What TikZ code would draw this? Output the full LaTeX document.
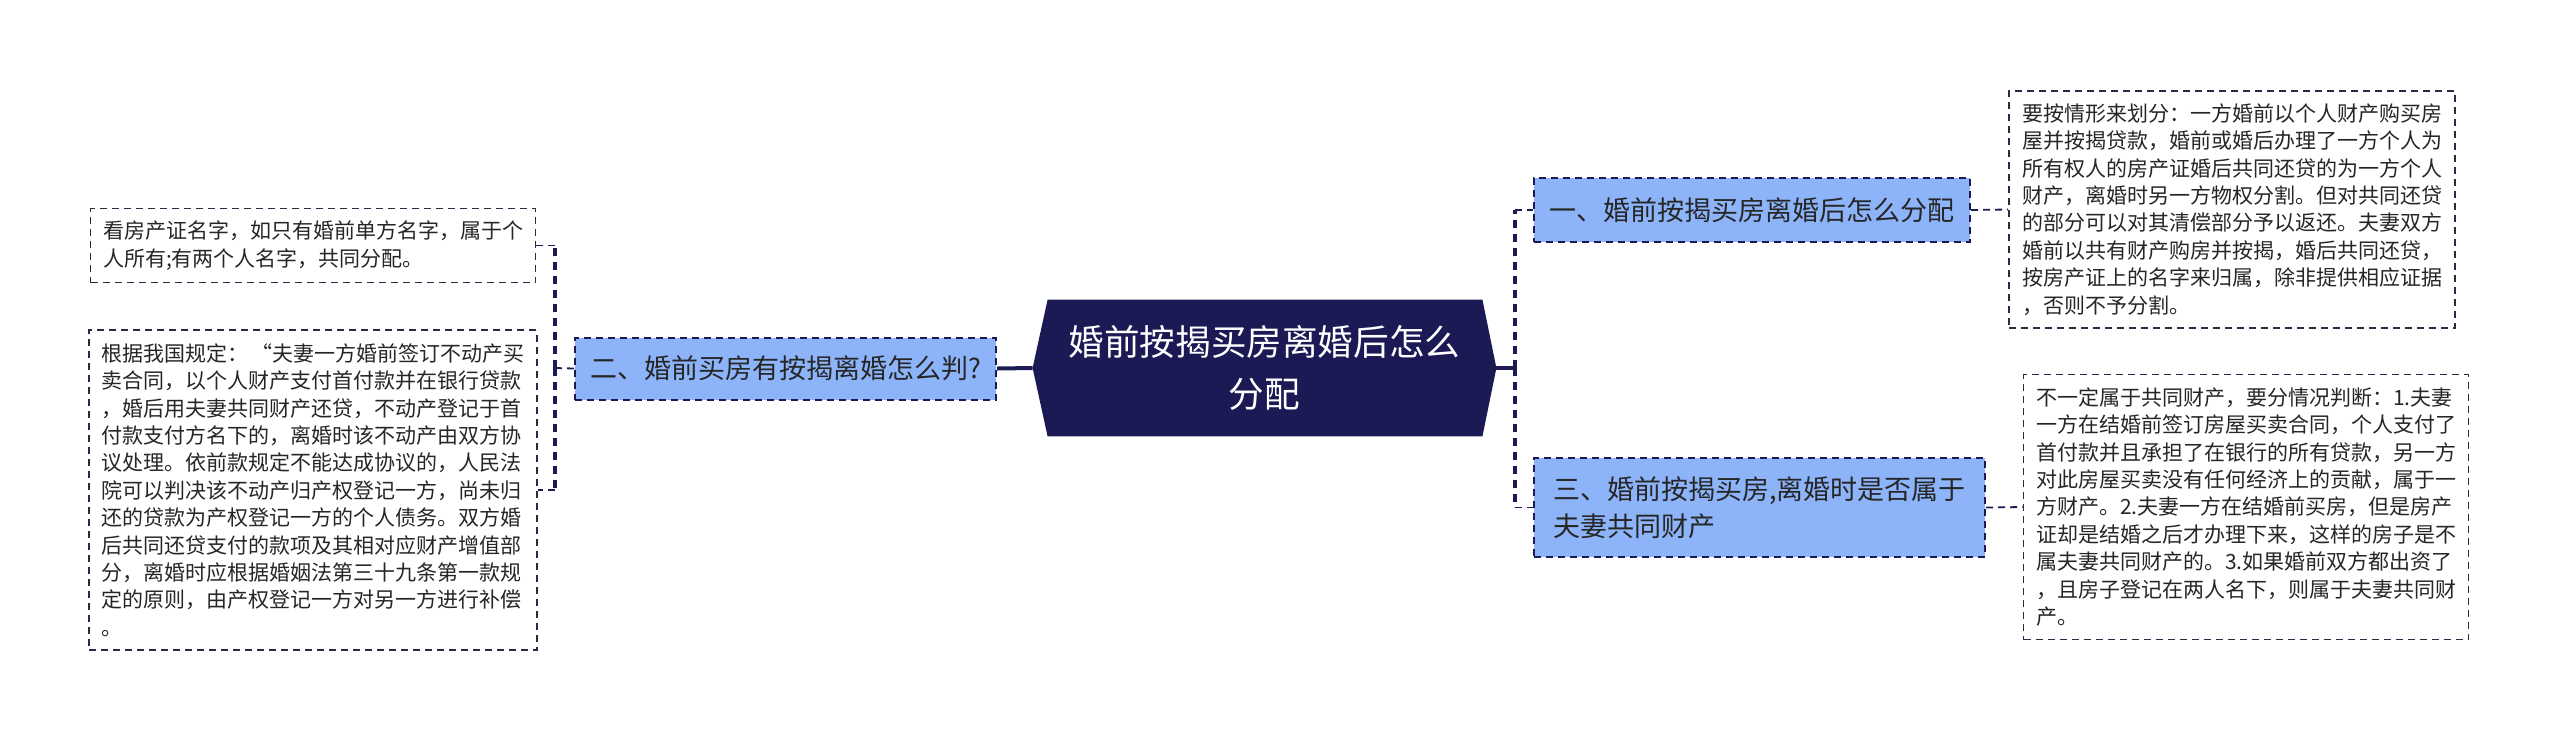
\documentclass[tikz,border=0pt]{standalone}
\usepackage{fontspec}
\setmainfont{Noto Sans CJK SC}
\usepackage{tikz}
\usepackage{xcolor}
\usetikzlibrary{calc,backgrounds}

\definecolor{navy}{HTML}{1B1A55}
\definecolor{topicblue}{HTML}{8DB4F9}
\definecolor{leafline}{HTML}{2A2A44}

\begin{document}
\begin{tikzpicture}[x=0.5pt, y=-0.5pt,
    leaf/.style={draw=leafline, line width=0.8pt, dash pattern=on 3.5pt off 2.5pt, fill=white,
        align=left, inner xsep=6pt, text=black!85, font=\fontsize{10.5pt}{13.7pt}\selectfont},
    branch/.style={draw=navy, line width=1pt, dash pattern=on 3.5pt off 2.5pt, fill=topicblue,
        align=left, inner xsep=7pt, text=black!85, font=\fontsize{13.5pt}{18.5pt}\selectfont},
    trunk/.style={navy, line width=2pt, dash pattern=on 4pt off 3pt},
    twig/.style={navy, line width=0.9pt, dash pattern=on 3.5pt off 2.5pt}]

    \useasboundingbox (0,0) rectangle (2560,741);

    % Central topic
    \node[minimum width=231.5pt, minimum height=68pt, text=white, align=center,
        font=\fontsize{17.8pt}{26pt}\selectfont] (root) at (1264.5,368) {婚前按揭买房离婚后怎么\\分配};
    \begin{scope}[on background layer]
        \fill[navy] ($(root.north west)+(15,0)$) -- ($(root.north east)+(-14,0)$) -- (root.east)
            -- ($(root.south east)+(-14,0)$) -- ($(root.south west)+(15,0)$) -- (root.west) -- cycle;
    \end{scope}

    % Branches
    \node[branch, minimum width=218pt, minimum height=32pt] (b1) at (1752,210) {一、婚前按揭买房离婚后怎么分配};
    \node[branch, minimum width=210.5pt, minimum height=31pt] (b2) at (785.5,368.5) {二、婚前买房有按揭离婚怎么判?};
    \node[branch, minimum width=225.5pt, minimum height=49.5pt] (b3) at (1759.5,507.5) {三、婚前按揭买房,离婚时是否属于\\夫妻共同财产};

    % Leaves (left)
    \node[leaf, minimum width=222.5pt, minimum height=37pt] (l1) at (313,245.5)
        {看房产证名字，如只有婚前单方名字，属于个\\人所有;有两个人名字，共同分配。};
    \node[leaf, minimum width=222.5pt, minimum height=160pt] (l2) at (313,490)
        {根据我国规定：\,“夫妻一方婚前签订不动产买\\卖合同，以个人财产支付首付款并在银行贷款\\，婚后用夫妻共同财产还贷，不动产登记于首\\付款支付方名下的，离婚时该不动产由双方协\\议处理。依前款规定不能达成协议的，人民法\\院可以判决该不动产归产权登记一方，尚未归\\还的贷款为产权登记一方的个人债务。双方婚\\后共同还贷支付的款项及其相对应财产增值部\\分，离婚时应根据婚姻法第三十九条第一款规\\定的原则，由产权登记一方对另一方进行补偿\\。};

    % Leaves (right)
    \node[leaf, minimum width=223pt, minimum height=118.5pt] (r1) at (2232,209.5)
        {要按情形来划分：一方婚前以个人财产购买房\\屋并按揭贷款，婚前或婚后办理了一方个人为\\所有权人的房产证婚后共同还贷的为一方个人\\财产，离婚时另一方物权分割。但对共同还贷\\的部分可以对其清偿部分予以返还。夫妻双方\\婚前以共有财产购房并按揭，婚后共同还贷，\\按房产证上的名字来归属，除非提供相应证据\\，否则不予分割。};
    \node[leaf, minimum width=222.5pt, minimum height=132.5pt] (r2) at (2246,507)
        {不一定属于共同财产，要分情况判断：1.夫妻\\一方在结婚前签订房屋买卖合同，个人支付了\\首付款并且承担了在银行的所有贷款，另一方\\对此房屋买卖没有任何经济上的贡献，属于一\\方财产。2.夫妻一方在结婚前买房，但是房产\\证却是结婚之后才办理下来，这样的房子是不\\属夫妻共同财产的。3.如果婚前双方都出资了\\，且房子登记在两人名下，则属于夫妻共同财\\产。};

    % Connectors
    \coordinate (rj) at (1515,368);
    \coordinate (lj) at (555,368);
    \draw[navy, line width=2pt] (root.east) -- (rj);
    \draw[navy, line width=2pt] (root.west) -- (b2.east);
    \draw[trunk] (rj) -- (rj |- b1.west);
    \draw[trunk] (rj) -- (rj |- b3.west);
    \draw[twig] (rj |- b1.west) -- (b1.west);
    \draw[twig] (rj |- b3.west) -- (b3.west);
    \draw[twig] (b2.west) -- (lj);
    \draw[trunk] (lj) -- (lj |- l1.east);
    \draw[trunk] (lj) -- (lj |- l2.east);
    \draw[twig] (lj |- l1.east) -- (l1.east);
    \draw[twig] (lj |- l2.east) -- (l2.east);
    \draw[twig] (b1.east) -- (r1.west);
    \draw[twig] (b3.east) -- (r2.west);
\end{tikzpicture}
\end{document}
